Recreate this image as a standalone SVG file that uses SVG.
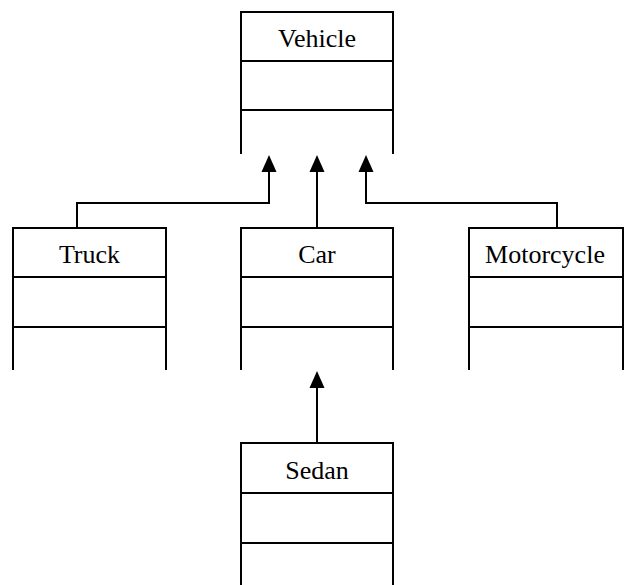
<svg xmlns="http://www.w3.org/2000/svg" width="626" height="585" viewBox="0 0 626 585">
<style>
.box{fill:none;stroke:#000;stroke-width:2}
.lbl{font-family:"Liberation Serif","Times New Roman",serif;font-size:26px;text-anchor:middle;fill:#000}
.conn{fill:none;stroke:#000;stroke-width:2}
.head{fill:#000}
</style>
<rect width="626" height="585" fill="#fff"/>
<g id="Vehicle">
<path class="box" d="M241,154 V12 H393 V154 M241,61 H393 M241,110 H393"/>
<text class="lbl" x="317" y="47">Vehicle</text>
</g>
<g id="Truck">
<path class="box" d="M13,370 V228 H166 V370 M13,277 H166 M13,327 H166"/>
<text class="lbl" x="89.5" y="263">Truck</text>
</g>
<g id="Car">
<path class="box" d="M241,370 V228 H393 V370 M241,277 H393 M241,327 H393"/>
<text class="lbl" x="317" y="263">Car</text>
</g>
<g id="Motorcycle">
<path class="box" d="M469,370 V228 H623 V370 M469,277 H623 M469,327 H623"/>
<text class="lbl" x="545" y="263">Motorcycle</text>
</g>
<g id="Sedan">
<path class="box" d="M241,585 V443 H393 V585 M241,493 H393 M241,543 H393"/>
<text class="lbl" x="317" y="479">Sedan</text>
</g>
<g id="connectors">
<path class="conn" d="M77,228 V203 H269 V170"/>
<polygon class="head" points="269,155 261.5,172 276.5,172"/>
<path class="conn" d="M317,228 V170"/>
<polygon class="head" points="317,155 309.5,172 324.5,172"/>
<path class="conn" d="M557,228 V203 H366 V170"/>
<polygon class="head" points="366,155 358.5,172 373.5,172"/>
<path class="conn" d="M317,443 V385"/>
<polygon class="head" points="317,371 309.5,388 324.5,388"/>
</g>
</svg>
